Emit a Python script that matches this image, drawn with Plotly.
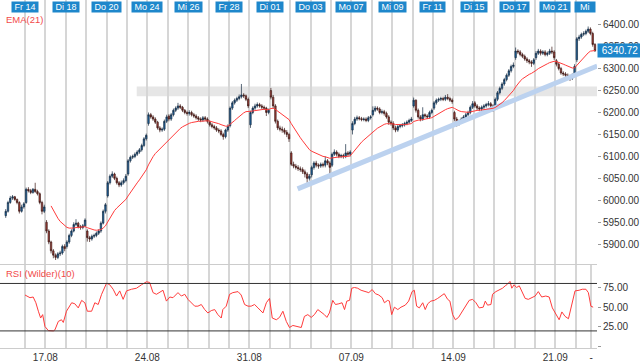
import plotly.graph_objects as go

FONT = "Liberation Sans, Arial, sans-serif"
NB = "\u00a0"

# ---------------- data (hourly candles, 9 per trading day) ----------------
day_labels = ["Do 13", "Fr 14", "Mo 17", "Di 18", "Mi 19", "Do 20", "Fr 21", "Mo 24", "Di 25", "Mi 26",
              "Do 27", "Fr 28", "Mo 31", "Di 01", "Mi 02", "Do 03", "Fr 04", "Mo 07", "Di 08", "Mi 09",
              "Do 10", "Fr 11", "Mo 14", "Di 15", "Mi 16", "Do 17", "Fr 18", "Mo 21", "Di 22", "Mi 23"]
top_label_days = ["Fr 14", "Di 18", "Do 20", "Mo 24", "Mi 26", "Fr 28", "Di 01", "Do 03", "Mo 07",
                  "Mi 09", "Fr 11", "Di 15", "Do 17", "Mo 21"]
last_top_label = "Mi"
bottom_label_days = ["Mo 17", "Mo 24", "Mo 31", "Mo 07", "Mo 14", "Mo 21"]
bottom_labels = ["17.08", "24.08", "31.08", "07.09", "14.09", "21.09"]

opens = [
    5965, 5975, 5995, 6005, 6008, 6002, 5995, 5975, 5985,
    5995, 6025, 6022, 6018, 6025, 6020, 6015, 5995, 5975,
    5950, 5930, 5905, 5885, 5875, 5870, 5878, 5880, 5895,
    5895, 5905, 5920, 5930, 5945, 5948, 5940, 5938, 5942,
    5930, 5915, 5912, 5918, 5920, 5925, 5930, 5948, 5975,
    6010, 6040, 6055, 6060, 6050, 6040, 6035, 6040, 6045,
    6060, 6090, 6098, 6100, 6105, 6110, 6115, 6125, 6140,
    6175, 6195, 6190, 6185, 6178, 6165, 6160, 6162, 6180,
    6192, 6185, 6195, 6205, 6210, 6215, 6212, 6205, 6200,
    6198, 6200, 6195, 6192, 6188, 6185, 6183, 6188, 6185,
    6178, 6172, 6168, 6165, 6160, 6158, 6150, 6145, 6160,
    6170, 6210, 6222, 6228, 6232, 6236, 6240, 6238, 6230,
    6172, 6200, 6210, 6215, 6218, 6215, 6212, 6210, 6200,
    6250, 6235, 6215, 6180, 6165, 6162, 6160, 6155, 6150,
    6108, 6082, 6078, 6075, 6072, 6070, 6065, 6060, 6050,
    6058, 6075, 6085, 6080, 6078, 6082, 6080, 6090, 6085,
    6080, 6105, 6110, 6105, 6100, 6102, 6100, 6108, 6105,
    6160, 6175, 6185, 6188, 6186, 6184, 6185, 6182, 6188,
    6195, 6205, 6210, 6208, 6200, 6202, 6198, 6190, 6178,
    6175, 6165, 6160, 6168, 6170, 6172, 6175, 6178, 6182,
    6215, 6228, 6205, 6190, 6185, 6195, 6192, 6190, 6200,
    6210, 6222, 6228, 6230, 6232, 6230, 6235, 6232, 6228,
    6200, 6185, 6175, 6180, 6185, 6190, 6195, 6200, 6212,
    6222, 6215, 6210, 6208, 6212, 6215, 6218, 6220, 6215,
    6212, 6230, 6245, 6255, 6265, 6275, 6285, 6295, 6305,
    6325, 6340, 6338, 6332, 6328, 6322, 6318, 6315, 6312,
    6325, 6335, 6340, 6335, 6338, 6332, 6335, 6340, 6338,
    6318, 6310, 6300, 6290, 6288, 6285, 6282, 6278, 6285,
    6320, 6368, 6372, 6378, 6380, 6385, 6390, 6380, 6355,
]
highs = [
    5980, 5999, 6010, 6012, 6010, 6004, 5998, 5990, 5996,
    6029, 6030, 6026, 6028, 6040, 6024, 6018, 5999, 5990,
    5955, 5934, 5908, 5889, 5879, 5882, 5885, 5899, 5900,
    5909, 5924, 5934, 5950, 5957, 5951, 5944, 5946, 5959,
    5934, 5919, 5922, 5924, 5929, 5934, 5952, 5979, 5994,
    6044, 6059, 6066, 6063, 6054, 6044, 6045, 6050, 6060,
    6094, 6102, 6104, 6109, 6114, 6119, 6129, 6144, 6152,
    6200, 6199, 6194, 6189, 6181, 6169, 6166, 6184, 6195,
    6196, 6199, 6209, 6214, 6222, 6219, 6215, 6208, 6204,
    6205, 6204, 6199, 6196, 6192, 6189, 6192, 6192, 6189,
    6182, 6176, 6172, 6169, 6164, 6162, 6154, 6163, 6173,
    6214, 6226, 6232, 6236, 6241, 6265, 6244, 6241, 6234,
    6204, 6214, 6220, 6223, 6222, 6219, 6216, 6213, 6209,
    6256, 6240, 6219, 6184, 6170, 6168, 6165, 6160, 6154,
    6112, 6088, 6083, 6080, 6077, 6075, 6070, 6064, 6060,
    6079, 6089, 6090, 6084, 6086, 6086, 6100, 6094, 6089,
    6109, 6116, 6114, 6109, 6106, 6106, 6128, 6112, 6114,
    6180, 6190, 6193, 6192, 6190, 6189, 6189, 6192, 6194,
    6214, 6215, 6214, 6212, 6207, 6206, 6202, 6194, 6182,
    6180, 6170, 6172, 6174, 6176, 6179, 6182, 6186, 6190,
    6234, 6230, 6209, 6194, 6212, 6198, 6196, 6204, 6209,
    6226, 6232, 6234, 6236, 6236, 6240, 6242, 6236, 6232,
    6204, 6190, 6184, 6189, 6194, 6199, 6204, 6216, 6226,
    6226, 6219, 6214, 6216, 6219, 6222, 6226, 6224, 6219,
    6234, 6249, 6259, 6269, 6279, 6289, 6299, 6309, 6314,
    6348, 6344, 6342, 6336, 6332, 6326, 6322, 6319, 6324,
    6340, 6345, 6344, 6342, 6342, 6339, 6345, 6350, 6342,
    6322, 6314, 6304, 6294, 6292, 6289, 6286, 6289, 6310,
    6372, 6377, 6382, 6385, 6389, 6396, 6394, 6384, 6358,
]
lows = [
    5960, 5972, 5992, 6001, 5999, 5991, 5970, 5972, 5981,
    5992, 6018, 6014, 6015, 6017, 6011, 5991, 5968, 5971,
    5925, 5900, 5879, 5868, 5864, 5866, 5873, 5876, 5884,
    5890, 5901, 5916, 5927, 5941, 5936, 5933, 5934, 5939,
    5906, 5905, 5908, 5914, 5916, 5921, 5926, 5945, 5970,
    6006, 6036, 6051, 6046, 6036, 6030, 6031, 6036, 6041,
    6056, 6086, 6094, 6096, 6101, 6106, 6111, 6121, 6136,
    6170, 6186, 6181, 6174, 6161, 6155, 6156, 6158, 6176,
    6180, 6181, 6191, 6201, 6206, 6208, 6201, 6196, 6193,
    6193, 6191, 6188, 6184, 6181, 6178, 6179, 6181, 6175,
    6168, 6164, 6161, 6156, 6153, 6146, 6138, 6141, 6156,
    6166, 6206, 6218, 6224, 6228, 6232, 6233, 6226, 6210,
    6165, 6196, 6206, 6211, 6211, 6208, 6206, 6192, 6196,
    6230, 6210, 6175, 6160, 6157, 6154, 6150, 6144, 6133,
    6078, 6073, 6070, 6067, 6065, 6060, 6052, 6040, 6045,
    6052, 6070, 6075, 6072, 6074, 6075, 6075, 6080, 6050,
    6076, 6101, 6100, 6096, 6096, 6095, 6096, 6100, 6100,
    6150, 6171, 6181, 6182, 6180, 6180, 6178, 6178, 6184,
    6191, 6201, 6204, 6196, 6196, 6193, 6186, 6172, 6170,
    6160, 6155, 6156, 6164, 6166, 6168, 6171, 6174, 6178,
    6211, 6200, 6186, 6180, 6181, 6188, 6185, 6186, 6196,
    6206, 6218, 6224, 6226, 6226, 6226, 6228, 6224, 6220,
    6180, 6168, 6170, 6176, 6181, 6186, 6191, 6196, 6208,
    6211, 6205, 6203, 6203, 6208, 6211, 6214, 6210, 6202,
    6208, 6226, 6241, 6251, 6261, 6271, 6281, 6291, 6301,
    6320, 6333, 6328, 6324, 6318, 6313, 6310, 6304, 6308,
    6320, 6331, 6330, 6331, 6328, 6328, 6331, 6333, 6320,
    6305, 6296, 6286, 6283, 6280, 6277, 6272, 6274, 6281,
    6315, 6363, 6368, 6374, 6376, 6381, 6376, 6350, 6338,
]
closes = [
    5975, 5995, 6005, 6008, 6002, 5995, 5975, 5985, 5992,
    6025, 6022, 6018, 6025, 6020, 6015, 5995, 5975, 5985,
    5930, 5905, 5885, 5875, 5870, 5878, 5880, 5895, 5890,
    5905, 5920, 5930, 5945, 5948, 5940, 5938, 5942, 5955,
    5915, 5912, 5918, 5920, 5925, 5930, 5948, 5975, 5990,
    6040, 6055, 6060, 6050, 6040, 6035, 6040, 6045, 6055,
    6090, 6098, 6100, 6105, 6110, 6115, 6125, 6140, 6148,
    6195, 6190, 6185, 6178, 6165, 6160, 6162, 6180, 6190,
    6185, 6195, 6205, 6210, 6215, 6212, 6205, 6200, 6198,
    6200, 6195, 6192, 6188, 6185, 6183, 6188, 6185, 6180,
    6172, 6168, 6165, 6160, 6158, 6150, 6145, 6160, 6168,
    6210, 6222, 6228, 6232, 6236, 6240, 6238, 6230, 6215,
    6200, 6210, 6215, 6218, 6215, 6212, 6210, 6200, 6205,
    6235, 6215, 6180, 6165, 6162, 6160, 6155, 6150, 6140,
    6082, 6078, 6075, 6072, 6070, 6065, 6060, 6050, 6055,
    6075, 6085, 6080, 6078, 6082, 6080, 6090, 6085, 6075,
    6105, 6110, 6105, 6100, 6102, 6100, 6108, 6105, 6110,
    6175, 6185, 6188, 6186, 6184, 6185, 6182, 6188, 6190,
    6205, 6210, 6208, 6200, 6202, 6198, 6190, 6178, 6175,
    6165, 6160, 6168, 6170, 6172, 6175, 6178, 6182, 6185,
    6228, 6205, 6190, 6185, 6195, 6192, 6190, 6200, 6205,
    6222, 6228, 6230, 6232, 6230, 6235, 6232, 6228, 6225,
    6185, 6175, 6180, 6185, 6190, 6195, 6200, 6212, 6220,
    6215, 6210, 6208, 6212, 6215, 6218, 6220, 6215, 6212,
    6230, 6245, 6255, 6265, 6275, 6285, 6295, 6305, 6308,
    6340, 6338, 6332, 6328, 6322, 6318, 6315, 6312, 6320,
    6335, 6340, 6335, 6338, 6332, 6335, 6340, 6338, 6325,
    6310, 6300, 6290, 6288, 6285, 6282, 6278, 6285, 6305,
    6368, 6372, 6378, 6380, 6385, 6390, 6380, 6355, 6340.72,
]
last_price = 6340.72

# RSI (Wilder)(10): candle position, value
rsi_pos = [8.5, 10.7, 12.1, 13.3, 14.4, 15.4, 16.3, 17.3, 18.8, 21.0, 21.7, 23.2, 24.6, 25.4, 26.8,
           29.1, 30.5, 32.0, 33.5, 34.9, 36.0, 37.9, 39.3, 40.8, 42.3, 43.3, 44.5, 45.9, 47.4, 48.9,
           50.3, 51.8, 53.3, 55.5, 57.7, 59.9, 62.1, 63.5, 65.0, 66.5, 68.0, 69.4, 70.9, 72.4, 73.8,
           76.0, 77.5, 79.0, 80.4, 81.9, 83.4, 84.8, 86.3, 87.8, 89.2, 90.7, 92.2, 93.6, 95.1, 95.8,
           97.3, 98.8, 100.2, 102.5, 103.9, 105.4, 106.9, 108.3, 109.8, 111.3, 113.5, 115.0, 116.4,
           117.6, 119.4, 120.8, 122.3, 123.8, 125.2, 126.7, 128.9, 130.4, 131.8, 133.3, 134.8, 136.2,
           137.7, 138.4, 140.6, 141.7, 142.8, 144.3, 145.5, 147.0, 148.4, 149.5, 150.5, 151.7, 152.7,
           153.9, 155.3, 156.8, 158.3, 160.2, 161.7, 163.1, 164.6, 166.1, 167.1, 168.5, 169.3, 170.3,
           171.5, 173.0, 174.4, 176.3, 177.8, 179.3, 180.3, 181.3, 182.5, 184.0, 185.1, 186.2, 187.6,
           189.1, 190.6, 192.0, 193.5, 195.0, 196.0, 197.2, 198.4, 199.8, 201.6, 203.1, 204.5, 206.0,
           207.5, 208.9, 210.7, 211.6, 212.6, 214.1, 214.8, 216.3, 217.7, 219.2, 220.4, 221.4, 222.5,
           223.3, 224.3, 225.4, 226.6, 227.7, 229.2, 230.6, 232.1, 233.6, 235.0, 236.5, 238.3, 239.8,
           241.2, 242.7, 244.2, 245.4, 246.8, 248.3, 249.8, 251.2, 253.0, 254.4, 256.0, 257.1, 258.2,
           259.2]
rsi_vals = [65.4, 62.0, 62.9, 55.6, 44.9, 36.3, 40.6, 25.6, 20.4, 20.0, 21.3, 32.0, 34.1, 30.7, 44.9,
            55.6, 54.3, 49.1, 58.6, 55.6, 44.9, 44.9, 55.6, 53.4, 66.3, 72.7, 80.4, 78.3, 72.7, 64.1,
            70.6, 59.9, 70.6, 72.7, 74.0, 78.3, 82.1, 81.3, 68.4, 66.3, 68.4, 71.4, 57.7, 62.9, 62.0,
            68.4, 64.1, 66.3, 59.9, 55.6, 51.3, 51.3, 53.4, 47.0, 42.7, 45.7, 47.0, 40.6, 36.3, 47.0,
            51.3, 66.3, 68.4, 69.7, 65.4, 53.4, 51.3, 51.3, 53.4, 49.1, 42.7, 55.6, 61.1,
            36.3, 34.1, 37.1, 44.9, 32.0, 24.3, 26.9, 25.6, 24.3, 38.4, 40.6, 37.1, 40.6,
            47.0, 45.7, 40.6, 37.1, 42.7, 58.6, 53.4, 54.3, 55.6, 47.0, 57.7, 58.6, 74.0,
            74.9, 74.0, 71.4, 69.7, 68.4, 72.3, 67.1, 65.4, 62.0, 55.6, 58.6, 57.7, 40.6,
            50.0, 47.0, 50.0, 52.6, 57.7, 69.7, 71.4, 51.3, 49.1, 55.6, 47.0, 54.3, 57.7,
            58.6, 61.1, 64.1, 67.1, 59.9, 57.7, 40.6, 34.1, 37.1, 44.9, 51.3, 58.6, 59.9,
            55.6, 49.1, 50.0, 57.7, 52.6, 53.4, 66.3, 69.7, 71.4, 74.0, 77.0, 79.1, 82.6,
            74.0, 78.3, 74.9, 77.0, 69.7, 61.1, 59.9, 62.0, 64.1, 69.7, 62.9, 64.1, 62.9,
            49.1, 40.6, 34.1, 44.0, 38.4, 35.4, 53.4, 70.6, 71.4, 72.7, 72.7, 68.4, 51.3,
            50.0]

price_ticks = [5900, 5950, 6000, 6050, 6100, 6150, 6200, 6250, 6300, 6350, 6400]
rsi_ticks = [0, 25, 50, 75]
rsi_tick_text = ["", "25.00", "50.00", "75.00"]
rsi_levels = [20, 80]
band_low, band_high = 6237, 6259          # grey resistance zone
band_start = 57.8                         # candle position where zone begins
trend_x = [128.8, 261.0]                  # support trend line (candle positions)
trend_y = [6026, 6306]
EMA_PERIOD = 21
PER_DAY = 9

# ---------------- indicator: EMA(21) of closes ----------------
n = len(closes)
xs = list(range(n))
ema = [None] * n
ema[EMA_PERIOD - 1] = sum(closes[:EMA_PERIOD]) / EMA_PERIOD
alpha = 2.0 / (EMA_PERIOD + 1)
for i in range(EMA_PERIOD, n):
    ema[i] = ema[i - 1] + alpha * (closes[i] - ema[i - 1])


def day_pos(lbl):
    return day_labels.index(lbl) * PER_DAY - 0.5


grid_days = day_labels[1:]
grid_x = [day_pos(d) for d in grid_days]
x_range = [-2.53, 260.9]

# bottom axis: one tick per day boundary (gridline), text only on Mondays
bottom_map = dict(zip(bottom_label_days, bottom_labels))
bottom_vals = grid_x + [258.3]
bottom_text = [bottom_map.get(d, "") for d in grid_days] + ["-"]

# ---------------- figure ----------------
fig = go.Figure()

fig.add_trace(go.Scatter(x=trend_x, y=trend_y, mode="lines",
                         line=dict(color="#bcd2ef", width=5), hoverinfo="skip",
                         xaxis="x", yaxis="y", showlegend=False))
fig.add_trace(go.Candlestick(
    x=xs, open=opens, high=highs, low=lows, close=closes,
    increasing=dict(line=dict(color="#142a40", width=0.7), fillcolor="#1f66a3"),
    decreasing=dict(line=dict(color="#3a1512", width=0.7), fillcolor="#a8423a"),
    whiskerwidth=0, xaxis="x", yaxis="y", showlegend=False))
fig.add_trace(go.Scatter(x=xs, y=ema, mode="lines", line=dict(color="#ff3b3b", width=1),
                         xaxis="x", yaxis="y", showlegend=False))
fig.add_trace(go.Scatter(x=rsi_pos, y=rsi_vals, mode="lines", line=dict(color="#ff3b3b", width=1),
                         xaxis="x2", yaxis="y2", showlegend=False))
for lv in rsi_levels:
    fig.add_trace(go.Scatter(x=x_range, y=[lv, lv], mode="lines",
                             line=dict(color="#333333", width=1), hoverinfo="skip",
                             xaxis="x2", yaxis="y2", showlegend=False))

shapes = [dict(type="rect", xref="x", yref="y", x0=band_start, x1=x_range[1],
               y0=band_low, y1=band_high, fillcolor="#e6e6e6", line=dict(width=0), layer="below")]

PH = 352.0
annotations = []
for lbl in top_label_days:
    annotations.append(dict(x=day_pos(lbl), y=1, xref="x", yref="paper", text=NB + lbl + NB,
                            xanchor="center", yanchor="top", showarrow=False, yshift=-1,
                            bgcolor="#1e87cb", borderpad=0,
                            font=dict(family=FONT, size=9, color="white")))
annotations.append(dict(x=day_pos("Mi 23"), y=1, xref="x", yref="paper",
                        text=NB + NB + last_top_label + NB + NB,
                        xanchor="right", yanchor="top", showarrow=False, yshift=-1,
                        bgcolor="#1e87cb", borderpad=0,
                        font=dict(family=FONT, size=9, color="white")))
annotations.append(dict(x=0.006, y=1 - 20 / PH, xref="paper", yref="paper", text="EMA(21)",
                        showarrow=False, xanchor="left", yanchor="middle",
                        font=dict(family=FONT, size=9.5, color="#f24a4a")))
annotations.append(dict(x=0.006, y=1 - 277 / PH, xref="paper", yref="paper", text="RSI (Wilder)(10)",
                        showarrow=False, xanchor="left", yanchor="middle",
                        font=dict(family=FONT, size=9.5, color="#f24a4a")))
annotations.append(dict(x=1, y=last_price, xref="paper", yref="y", text=NB + "%.2f" % last_price + NB,
                        showarrow=False, xanchor="left", yanchor="middle",
                        bgcolor="#1e87cb", borderpad=1,
                        font=dict(family=FONT, size=10, color="white")))

main_dom = [(PH - 267) / PH, 1.0]
rsi_dom = [0.0, (PH - 268) / PH]

fig.update_layout(
    width=640, height=363,
    margin=dict(l=0, r=42, t=0, b=11),
    paper_bgcolor="white", plot_bgcolor="white",
    font=dict(family=FONT, size=10, color="#333333"),
    shapes=shapes,
    annotations=annotations,
    boxgap=0.1,
    xaxis=dict(domain=[0, 1], range=x_range, anchor="y", tickvals=grid_x, showticklabels=False,
               showgrid=True, gridcolor="#d6d6d6", gridwidth=1.5, zeroline=False,
               showline=True, linecolor="#cccccc", linewidth=1, ticks="",
               rangeslider=dict(visible=False), fixedrange=True),
    yaxis=dict(domain=main_dom, range=[5855, 6456.3], side="right", tickvals=price_ticks,
               tickformat=".2f", showgrid=False, zeroline=False, ticks="outside", ticklen=3,
               tickcolor="#999999", tickfont=dict(family=FONT, size=10, color="#333333")),
    xaxis2=dict(domain=[0, 1], range=x_range, anchor="y2", matches="x",
                tickvals=bottom_vals, ticktext=bottom_text,
                showgrid=True, gridcolor="#d6d6d6", gridwidth=1.5, zeroline=False,
                showline=True, linecolor="#cccccc", linewidth=1, ticks="",
                tickfont=dict(family=FONT, size=10, color="#333333")),
    yaxis2=dict(domain=rsi_dom, range=[-1.6, 103.4], side="right", tickvals=rsi_ticks,
                ticktext=rsi_tick_text, showgrid=False, zeroline=False,
                ticks="outside", ticklen=3, tickcolor="#999999",
                tickfont=dict(family=FONT, size=10, color="#333333")),
    hovermode=False,
)

fig.write_html("out.html", config={"displayModeBar": False},
               post_script="document.body.style.margin='0px';document.body.style.overflow='hidden';")
